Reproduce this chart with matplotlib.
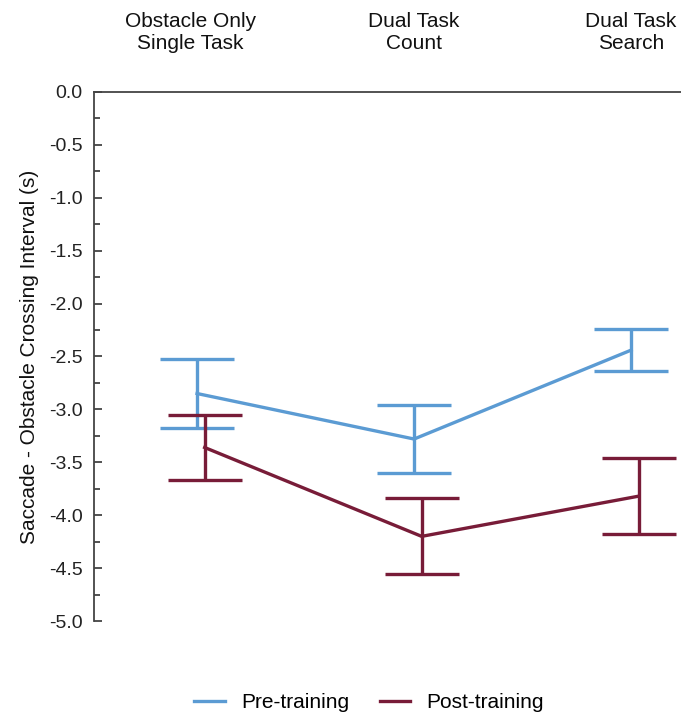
import matplotlib.pyplot as plt
from matplotlib.lines import Line2D
import numpy as np

plt.rcParams['font.family'] = ['Liberation Sans', 'DejaVu Sans']

# Data
conditions = ['Obstacle Only\nSingle Task', 'Dual Task\nCount', 'Dual Task\nSearch']
pre_mean = [-2.85, -3.28, -2.44]
pre_err = [0.33, 0.32, 0.20]
post_mean = [-3.36, -4.20, -3.82]
post_err = [0.31, 0.36, 0.36]

blue = '#5B9BD3'
maroon = '#781C38'

x = np.arange(len(conditions))

fig = plt.figure(figsize=(6.81, 7.12), dpi=100)
ax = fig.add_axes([0.138, 0.1278, 0.862, 0.743])

ax.errorbar(x, pre_mean, yerr=pre_err, color=blue, lw=2.4, capsize=26.5,
            capthick=2.4, zorder=2)
ax.errorbar(x + 0.035, post_mean, yerr=post_err, color=maroon, lw=2.4, capsize=26.5,
            capthick=2.4, zorder=3)

ax.set_xlim(-0.475, 2.23)
ax.set_ylim(-5, 0)
ticks = np.arange(-5, 0.01, 0.5)
ax.set_yticks(ticks)
ax.set_yticklabels([f'{v:.1f}' for v in ticks])
ax.set_yticks(np.arange(-4.75, 0, 0.5), minor=True)
ax.tick_params(axis='y', which='major', direction='in', length=6, width=1.3,
               color='#444444', labelsize=14, pad=8, labelcolor='#222222')
ax.tick_params(axis='y', which='minor', direction='in', length=4, width=1.3, color='#444444')
ax.set_xticks([])

for s in ['right', 'bottom']:
    ax.spines[s].set_visible(False)
for s in ['left', 'top']:
    ax.spines[s].set_color('#444444')
    ax.spines[s].set_linewidth(1.3)

ax.set_ylabel('Saccade - Obstacle Crossing Interval (s)', fontsize=15, labelpad=7, color='#111111')

trans = ax.get_xaxis_transform()
label_x = [-0.03, 0.0, 0.0]
for xi, dx, lab in zip(x, label_x, conditions):
    ax.text(xi + dx, 1.112, lab, transform=trans, ha='center', va='center',
            fontsize=15, color='#111111', linespacing=1.22)

handles = [Line2D([], [], color=blue, lw=2.4), Line2D([], [], color=maroon, lw=2.4)]
fig.legend(handles, ['Pre-training', 'Post-training'], loc='center',
           bbox_to_anchor=(0.542, 0.013), ncol=2, frameon=False, fontsize=15,
           handlelength=1.45, handletextpad=0.8, columnspacing=1.45)

fig.savefig('out.png', dpi=100)
